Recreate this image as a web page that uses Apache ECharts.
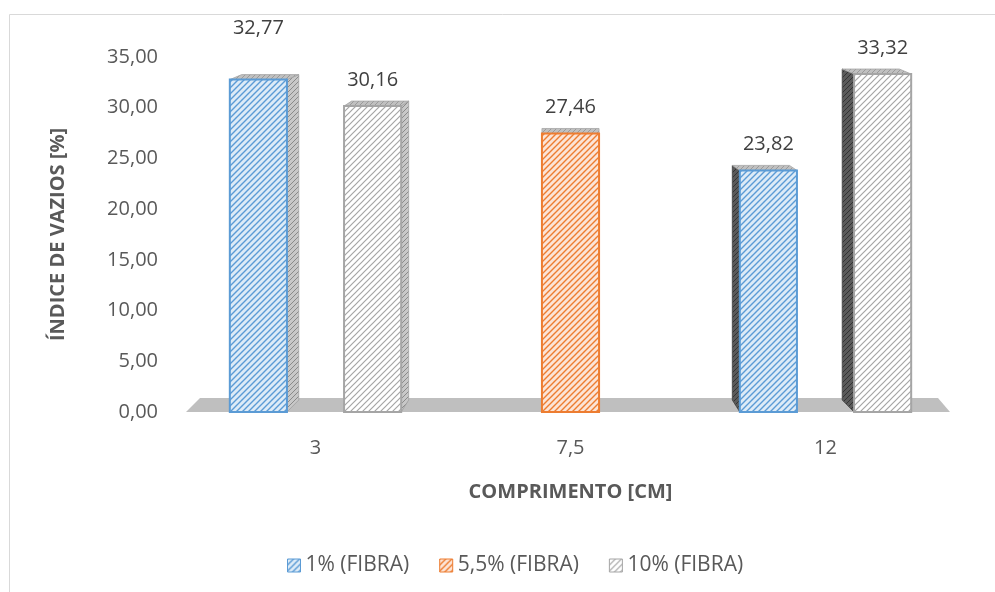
<!DOCTYPE html>
<html>
<head>
<meta charset="utf-8">
<script src="https://cdn.jsdelivr.net/npm/echarts@6/dist/echarts.min.js"></script>
<style>
  html, body { margin: 0; padding: 0; background: #fff; }
  #main { width: 995px; height: 592px; }
</style>
</head>
<body>
<div id="main"></div>
<script>
// dados
const categories = ['3', '7,5', '12'];
const seriesNames = ['1% (FIBRA)', '5,5% (FIBRA)', '10% (FIBRA)'];
const fibra1 = [32.77, null, 23.82];
const fibra55 = [null, 27.46, null];
const fibra10 = [30.16, null, 33.32];
const yMin = 0, yMax = 35, yStep = 5;

// hachura diagonal "/"
function hatch(bg, fg, size, lw) {
  const c = document.createElement('canvas');
  c.width = size; c.height = size;
  const ctx = c.getContext('2d');
  ctx.fillStyle = bg;
  ctx.fillRect(0, 0, size, size);
  ctx.strokeStyle = fg;
  ctx.lineWidth = lw;
  ctx.beginPath();
  ctx.moveTo(-1, size + 1); ctx.lineTo(size + 1, -1);
  ctx.moveTo(-1, 1); ctx.lineTo(1, -1);
  ctx.moveTo(size - 1, size + 1); ctx.lineTo(size + 1, size - 1);
  ctx.stroke();
  return { image: c, repeat: 'repeat' };
}

const fills = [
  hatch('#ddebf7', '#5b9bd5', 6, 1.4),
  hatch('#fce4d6', '#ed7d31', 6, 1.4),
  hatch('#ffffff', '#a5a5a5', 6, 1.2)
];
const borders = ['#5b9bd5', '#ed7d31', '#a5a5a5'];
const sideDark = hatch('#5a5a5a', '#333333', 5, 1);
const sideLight = hatch('#c8c8c8', '#8a8a8a', 5, 1);
const topFill = hatch('#c0c0c0', '#9a9a9a', 5, 1);

const fmt = v => v.toFixed(2).replace('.', ',');

function barRender(idx) {
  return function (params, api) {
    const v = api.value(1);
    if (v == null || isNaN(v)) return;
    const ci = api.value(0);
    const base = api.coord([ci, 0]);
    const top = api.coord([ci, v]);
    const band = api.size([1, 0])[0];
    const w = band * 0.224;
    const cx = base[0] + (idx - 1) * w;
    const left = cx - w / 2, right = cx + w / 2;
    const mid = api.coord([1, 0])[0];
    const d = (mid - cx) / (band * 1.24) * 12;
    const ty = top[1], by = base[1];
    const edge = d > 0 ? right : left;
    // o rótulo do primeiro ponto fica mais alto no original
    const lift = (idx === 0 && ci === 0) ? 25 : 0;
    const children = [];
    if (Math.abs(d) > 1) {
      children.push({
        type: 'polygon',
        shape: { points: [[edge, ty], [edge + d, ty - 5], [edge + d, by - 12], [edge, by]] },
        style: { fill: d > 0 ? sideLight : sideDark, stroke: d > 0 ? '#a0a0a0' : '#404040', lineWidth: 0.8 }
      });
    }
    children.push({
      type: 'polygon',
      shape: { points: [[left, ty], [right, ty], [right + d, ty - 5], [left + d, ty - 5]] },
      style: { fill: topFill, stroke: '#a6a6a6', lineWidth: 0.8 }
    });
    children.push({
      type: 'rect',
      shape: { x: left, y: ty, width: w, height: by - ty },
      style: { fill: fills[idx], stroke: borders[idx], lineWidth: 2 }
    });
    children.push({
      type: 'text',
      style: {
        text: fmt(v), x: cx, y: ty - 16 - lift, align: 'center', verticalAlign: 'bottom',
        fill: '#404040', fontSize: 20, fontFamily: '"Open Sans", sans-serif'
      }
    });
    return { type: 'group', children: children };
  };
}

function floorRender(params, api) {
  const l = api.coord([0, 0]);
  const r = api.coord([categories.length - 1, 0]);
  const band = api.size([1, 0])[0];
  const x0 = l[0] - band / 2, x1 = r[0] + band / 2, y = l[1];
  return {
    type: 'polygon',
    shape: { points: [[x0 - 2, y], [x0 + 12, y - 14], [x1 - 15, y - 14], [x1 - 3, y]] },
    style: { fill: '#bfbfbf' }
  };
}

const allData = [fibra1, fibra55, fibra10];
const chart = echarts.init(document.getElementById('main'));
const textColor = '#595959';
const font = '"Open Sans", sans-serif';

const option = {
  animation: false,
  graphic: [{
    type: 'rect', silent: true,
    shape: { x: 9.5, y: 14.5, width: 1000, height: 600 },
    style: { fill: 'none', stroke: '#d9d9d9', lineWidth: 1 }
  }],
  grid: { left: 188, right: 42, top: 57, bottom: 180 },
  legend: {
    top: 550, left: 282, itemGap: 30, itemWidth: 13, itemHeight: 13, icon: 'rect',
    textStyle: { color: textColor, fontSize: 21, fontFamily: font },
    data: seriesNames.map((n, i) => ({
      name: n, itemStyle: { color: fills[i], borderColor: borders[i], borderWidth: 1 }
    }))
  },
  xAxis: {
    type: 'category', data: categories,
    axisLine: { show: false }, axisTick: { show: false },
    axisLabel: { color: textColor, fontSize: 20, fontFamily: font, margin: 26 },
    name: 'COMPRIMENTO [CM]', nameLocation: 'middle', nameGap: 70,
    nameTextStyle: { color: textColor, fontSize: 20, fontWeight: 'bold', fontFamily: font }
  },
  yAxis: {
    type: 'value', min: yMin, max: yMax, interval: yStep,
    splitLine: { show: false }, axisLine: { show: false }, axisTick: { show: false },
    axisLabel: { color: textColor, fontSize: 20, fontFamily: font, margin: 30, formatter: fmt },
    name: 'ÍNDICE DE VAZIOS [%]', nameLocation: 'middle', nameGap: 120, nameRotate: 90,
    nameTextStyle: { color: textColor, fontSize: 20, fontWeight: 'bold', fontFamily: font }
  },
  series: [{
    type: 'custom', name: 'piso', z: 1, silent: true,
    renderItem: floorRender, data: [[0, 0]], encode: { x: 0, y: 1 }
  }].concat(allData.map((arr, i) => ({
    type: 'custom', name: seriesNames[i], z: 2,
    itemStyle: { color: fills[i], borderColor: borders[i] },
    renderItem: barRender(i),
    encode: { x: 0, y: 1 },
    data: arr.map((v, k) => [k, v == null ? NaN : v])
  })))
};
chart.setOption(option);
</script>
</body>
</html>
